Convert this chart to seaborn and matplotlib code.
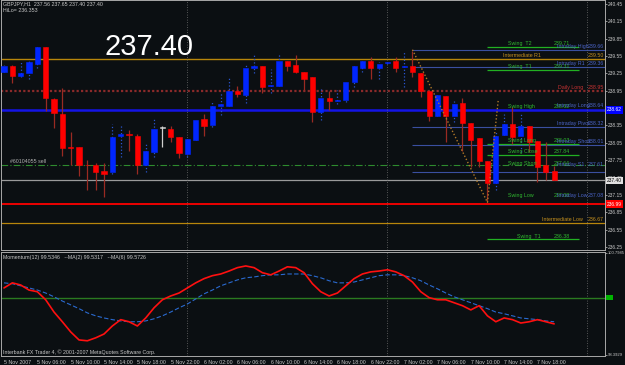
import matplotlib.pyplot as plt
import matplotlib.transforms as mtransforms
import numpy as np
import pandas as pd
import seaborn as sns

# GBPJPY H1 candles, 5 Nov 02:00 .. 7 Nov 20:00 (bar index = hour since start)
opens = [239.27, 239.37, 239.20, 239.25, 239.42, 239.70, 238.80, 238.55, 237.98, 237.98,
         237.67, 237.66, 237.57, 237.54, 238.17, 238.20, 238.17, 237.66, 237.90, 238.31,
         238.29, 238.15, 237.86, 238.10, 238.46, 238.36, 238.68, 238.68, 238.94, 238.87,
         239.34, 239.37, 239.03, 239.03, 239.47, 239.39, 239.28, 239.18, 238.58, 238.82,
         238.77, 238.79, 239.10, 239.35, 239.46, 239.34, 239.43, 239.46, 239.36, 239.37,
         239.25, 238.94, 238.51, 238.86, 238.51, 238.74, 238.39, 238.14, 237.74, 237.36,
         238.19, 238.38, 238.17, 238.34, 238.08, 237.66, 237.56]
highs = [239.39, 239.39, 239.44, 239.46, 239.70, 239.70, 238.82, 238.99, 238.24, 237.98,
         237.76, 237.71, 237.71, 238.38, 238.38, 238.27, 238.20, 238.05, 238.46, 238.34,
         238.34, 238.15, 238.12, 238.44, 238.55, 238.75, 238.91, 239.18, 239.04, 239.39,
         239.58, 239.37, 239.32, 239.59, 239.47, 239.56, 239.28, 239.18, 238.99, 238.94,
         238.96, 239.11, 239.37, 239.46, 239.54, 239.44, 239.46, 239.54, 239.64, 239.63,
         239.25, 238.94, 238.87, 238.86, 238.77, 238.82, 238.39, 238.14, 237.74, 238.26,
         238.55, 238.67, 238.55, 238.34, 238.08, 238.07, 237.65]
lows = [239.27, 239.08, 239.18, 239.16, 239.35, 238.60, 238.31, 237.83, 237.66, 237.48,
        237.24, 237.23, 237.12, 237.52, 237.81, 237.91, 237.52, 237.54, 237.81, 237.98,
        238.07, 237.79, 237.81, 238.10, 238.17, 238.32, 238.53, 238.68, 238.84, 238.74,
        239.25, 238.92, 238.92, 239.03, 239.30, 239.25, 238.96, 238.41, 238.44, 238.62,
        238.72, 238.75, 239.01, 239.27, 239.15, 239.15, 239.42, 239.27, 239.01, 239.18,
        238.84, 238.43, 238.51, 238.07, 238.41, 237.91, 237.64, 237.64, 237.04, 237.23,
        238.19, 238.03, 237.90, 237.90, 237.38, 237.40, 237.40]
closes = [239.37, 239.20, 239.25, 239.44, 239.70, 238.82, 238.56, 237.96, 237.96, 237.66,
          237.66, 237.55, 237.52, 238.15, 238.20, 238.19, 237.66, 237.91, 238.29, 238.31,
          238.15, 237.88, 238.12, 238.44, 238.34, 238.68, 238.72, 238.94, 238.89, 239.34,
          239.37, 239.01, 239.04, 239.47, 239.37, 239.28, 239.16, 238.58, 238.82, 238.77,
          238.78, 239.10, 239.37, 239.46, 239.34, 239.42, 239.44, 239.34, 239.37, 239.27,
          238.94, 238.51, 238.87, 238.51, 238.72, 238.39, 238.10, 237.74, 237.35, 238.17,
          238.38, 238.15, 238.34, 238.07, 237.64, 237.55, 237.40]

# momentum window: MA(2) (red) and MA(6) (blue dashed)
mom_ma2 = [99.97, 100.09, 100.04, 99.92, 99.88, 99.69, 99.40, 99.17, 98.93, 98.74,
           98.72, 98.79, 98.88, 99.07, 99.22, 99.17, 99.07, 99.26, 99.50, 99.69,
           99.78, 99.85, 99.97, 100.09, 100.19, 100.26, 100.30, 100.37, 100.45, 100.49,
           100.45, 100.33, 100.28, 100.37, 100.47, 100.45, 100.33, 100.07, 99.88, 99.78,
           99.85, 100.02, 100.19, 100.30, 100.35, 100.37, 100.40, 100.35, 100.26, 100.11,
           99.88, 99.74, 99.69, 99.69, 99.62, 99.55, 99.45, 99.55, 99.31, 99.17,
           99.26, 99.22, 99.14, 99.17, 99.22, 99.17, 99.12]
mom_ma6 = [100.09, 100.07, 100.02, 99.97, 99.92, 99.85, 99.76, 99.66, 99.57, 99.48,
           99.38, 99.31, 99.26, 99.22, 99.19, 99.17, 99.17, 99.19, 99.24, 99.31,
           99.40, 99.50, 99.59, 99.71, 99.83, 99.92, 100.02, 100.09, 100.16, 100.21,
           100.23, 100.26, 100.28, 100.28, 100.30, 100.30, 100.30, 100.26, 100.21, 100.14,
           100.09, 100.09, 100.11, 100.16, 100.21, 100.26, 100.28, 100.28, 100.26, 100.21,
           100.14, 100.04, 99.95, 99.85, 99.76, 99.69, 99.62, 99.55, 99.48, 99.40,
           99.36, 99.31, 99.26, 99.24, 99.22, 99.19, 99.17]
mom_level = 99.74

time_ticks = [0, 4, 8, 12, 16, 20, 24, 28, 32, 36, 40, 44, 48, 52, 56, 60, 64]
time_labels = ["5 Nov 2007", "5 Nov 06:00", "5 Nov 10:00", "5 Nov 14:00", "5 Nov 18:00",
               "5 Nov 22:00", "6 Nov 02:00", "6 Nov 06:00", "6 Nov 10:00", "6 Nov 14:00",
               "6 Nov 18:00", "6 Nov 22:00", "7 Nov 02:00", "7 Nov 06:00", "7 Nov 10:00",
               "7 Nov 14:00", "7 Nov 18:00"]
day_breaks = [22, 46, 70]
price_ticks = [240.45, 240.15, 239.85, 239.55, 239.25, 238.95, 238.65, 238.35, 238.05,
               237.75, 237.45, 237.15, 236.85, 236.55, 236.25]

# level indicator texts
swing_names = ["Swing  T2", "Swing  T1", "Swing High", "Swing Long", "Swing Close",
               "Swing Short", "Swing Low", "Swing  T1"]
swing_prices = [239.71, 239.31, 238.62, 238.03, 237.84, 237.64, 237.08, 236.38]
swing_lines = [239.71, 239.31, 238.03, 237.84, 236.38]
intraday_names = ["Intraday High", "Intraday R1", "Intraday Long", "Intraday Pivot",
                  "Intraday Short", "Intraday S1", "Intraday Low"]
intraday_prices = [239.66, 239.36, 238.64, 238.32, 238.01, 237.61, 237.08]
intraday_lines = [239.66, 239.36, 238.32, 238.01, 237.55]
inter_names = ["Intermediate R1", "Intermediate Low"]
inter_prices = [239.50, 236.67]
daily_name = "Daily Long"
daily_price = 238.95
zig_x = [49, 58, 59.3]
zig_y = [239.66, 237.02, 238.80]

bid = 237.40
order_price = 237.66
blue_level = 238.62
red_level = 236.99

BG = "#0b0f12"
GRAY = "#a8a8a8"
TXT = "#c8c8c8"

sns.set_theme(style="dark", rc={"axes.facecolor": BG, "figure.facecolor": BG})
plt.rcParams["font.family"] = ["Liberation Sans", "DejaVu Sans"]

fig = plt.figure(figsize=(6.25, 3.65), dpi=100)
ax = fig.add_axes([1 / 625, 115 / 365, 604 / 625, 250 / 365])
ax2 = fig.add_axes([1 / 625, 9 / 365, 604 / 625, 104 / 365])
XMIN, XMAX = -0.36, 72.1

bars = np.arange(len(opens))
o = np.array(opens)
c = np.array(closes)
up = c > o
down = c < o
flat = c == o

# wicks
ax.vlines(bars[up], np.array(lows)[up], np.array(highs)[up], colors="#2a55d0",
          linestyles=":", linewidth=0.9, zorder=2)
ax.vlines(bars[down], np.array(lows)[down], np.array(highs)[down], colors="#9a2a22",
          linewidth=0.9, zorder=2)
ax.vlines(bars[flat], np.array(lows)[flat], np.array(highs)[flat], colors="#d0d0d0",
          linewidth=0.9, zorder=2)

# bodies
body_bottom = np.minimum(o, c)
body_h = np.maximum(np.abs(c - o), 0.012)
colors = np.where(up, "#0026ff", np.where(down, "#ff0000", "#d0d0d0"))
ax.bar(bars, body_h, bottom=body_bottom, width=0.62, color=colors,
       edgecolor=colors, linewidth=0.4, zorder=3)

# full width levels
ax.axhline(inter_prices[0], color="#b8860b", lw=1.0, zorder=1)
ax.axhline(inter_prices[1], color="#b8860b", lw=0.9, zorder=1)
ax.axhline(daily_price, color="#8b2a2a", lw=1.6, ls=(0, (1, 1)), zorder=1)
ax.axhline(blue_level, color="#1414e6", lw=1.8, zorder=1)
ax.axhline(order_price, color="#2e8b2e", lw=0.8, ls=(0, (6, 2, 1, 2)), zorder=1)
ax.axhline(bid, color="#9a9a9a", lw=0.9, zorder=1)
ax.axhline(red_level, color="#ff0000", lw=1.3, zorder=1)

# partial levels
ax.hlines(intraday_lines, 49, XMAX, colors="#3a4fa0", lw=0.8, zorder=1)
ax.hlines(swing_lines, 58, 69, colors="#22b022", lw=0.9, zorder=1)
ax.plot(zig_x, zig_y, color="#b07828", ls=(0, (1, 1.5)), lw=1.0, zorder=4)

for b in day_breaks:
    ax.axvline(b, color="#707070", lw=0.6, ls=(0, (1, 2)), zorder=1)
    ax2.axvline(b, color="#707070", lw=0.6, ls=(0, (1, 2)), zorder=1)

fs = 3.8
for name, p in zip(swing_names, swing_prices):
    xn = 61.5 if name == "Swing  T1" and p < 237 else 60.5
    ax.text(xn, p + 0.015, name, color="#30b830", fontsize=fs, va="bottom", ha="left", zorder=5)
    ax.text(66.0, p + 0.015, f"{p:.2f}", color="#30b830", fontsize=fs, va="bottom", ha="left", zorder=5)
for name, p in zip(intraday_names, intraday_prices):
    ax.text(66.3, p + 0.015, name, color="#4a64c8", fontsize=fs, va="bottom", ha="left", zorder=5)
    ax.text(72.0, p + 0.015, f"{p:.2f}", color="#4a64c8", fontsize=fs, va="bottom", ha="right", zorder=5)
for name, p, xn in zip(inter_names, inter_prices, [59.9, 64.5]):
    ax.text(xn, p + 0.015, name, color="#c8921e", fontsize=fs, va="bottom", ha="left", zorder=5)
    ax.text(72.0, p + 0.015, f"{p:.2f}", color="#c8921e", fontsize=fs, va="bottom", ha="right", zorder=5)
ax.text(66.5, daily_price + 0.015, daily_name, color="#c83232", fontsize=fs, va="bottom", zorder=5)
ax.text(72.0, daily_price + 0.015, f"{daily_price:.2f}", color="#c83232", fontsize=fs,
        va="bottom", ha="right", zorder=5)
ax.text(0.7, order_price + 0.02, "#60104055 sell", color="#b0b0b0", fontsize=fs, va="bottom", zorder=5)

ax.set_xlim(XMIN, XMAX)
ax.set_ylim(236.198, 240.519)
ax.yaxis.tick_right()
ax.set_yticks(price_ticks, [f"{t:.2f}" for t in price_ticks])
ax.tick_params(axis="y", colors=GRAY, labelcolor=TXT, labelsize=3.5, length=1.5, pad=0.8, width=0.6)
ax.tick_params(axis="x", bottom=False, labelbottom=False)
ax.grid(False)

trans = mtransforms.blended_transform_factory(ax.transAxes, ax.transData)
for p, fc, tc in [(blue_level, "#0000ff", "white"), (bid, "#e0e0e0", "black"),
                  (red_level, "#ff0000", "white")]:
    ax.text(1.003, p, f"{p:.2f}", transform=trans, fontsize=3.5, color=tc, va="center", ha="left",
            bbox=dict(fc=fc, ec="none", pad=0.9), zorder=6, clip_on=False)

# momentum window
sns.lineplot(x=bars, y=mom_ma6, ax=ax2, color="#2a6ad0", lw=0.8, zorder=3)
ax2.lines[-1].set_linestyle((0, (4, 2)))
sns.lineplot(x=bars, y=mom_ma2, ax=ax2, color="#ff1010", lw=1.2, zorder=4)
ax2.axhline(mom_level, color="#2a7a20", lw=1.0, zorder=2)
trans2 = mtransforms.blended_transform_factory(ax2.transAxes, ax2.transData)
ax2.text(1.003, mom_level, "     ", transform=trans2, fontsize=3, va="center", ha="left",
         bbox=dict(fc="#00b400", ec="none", pad=0.6), zorder=6, clip_on=False)
ax2.set_xlim(XMIN, XMAX)
ax2.set_ylim(98.36, 100.82)
ax2.yaxis.tick_right()
ax2.set_yticks([98.3929, 100.7985], ["98.3929", "100.7985"])
ax2.tick_params(axis="y", colors=GRAY, labelcolor=TXT, labelsize=3.0, length=1.5, pad=0.8, width=0.6)
ax2.set_xticks(time_ticks, time_labels)
for lab in ax2.get_xticklabels():
    lab.set_ha("left")
ax2.tick_params(axis="x", colors=GRAY, labelcolor=TXT, labelsize=3.8, length=2, pad=1, width=0.6)
ax2.set_xlabel("")
ax2.set_ylabel("")
ax2.grid(False)

for a in (ax, ax2):
    for s in a.spines.values():
        s.set_color(GRAY)
        s.set_linewidth(0.7)
ax2.spines["bottom"].set_linestyle((0, (1, 1)))

fig.text(3 / 625, 1 - 4 / 365, "GBPJPY,H1  237.56 237.65 237.40 237.40", color=TXT,
         fontsize=3.8, va="center")
fig.text(3 / 625, 1 - 11 / 365, "HiLo= 236.353", color=TXT, fontsize=3.8, va="center")
fig.text(104 / 625, 1 - 47 / 365, "237.40", color="white", fontsize=21, va="center")
fig.text(3 / 625, 1 - 257 / 365, "Momentum(12) 99.5346   --MA(2) 99.5317   --MA(6) 99.5726",
         color=TXT, fontsize=3.8, va="center")
fig.text(3 / 625, 1 - 352 / 365, "Interbank FX Trader 4, \u00a9 2001-2007 MetaQuotes Software Corp.",
         color=TXT, fontsize=3.8, va="center")

fig.savefig("out.png", dpi=100, facecolor=BG)
